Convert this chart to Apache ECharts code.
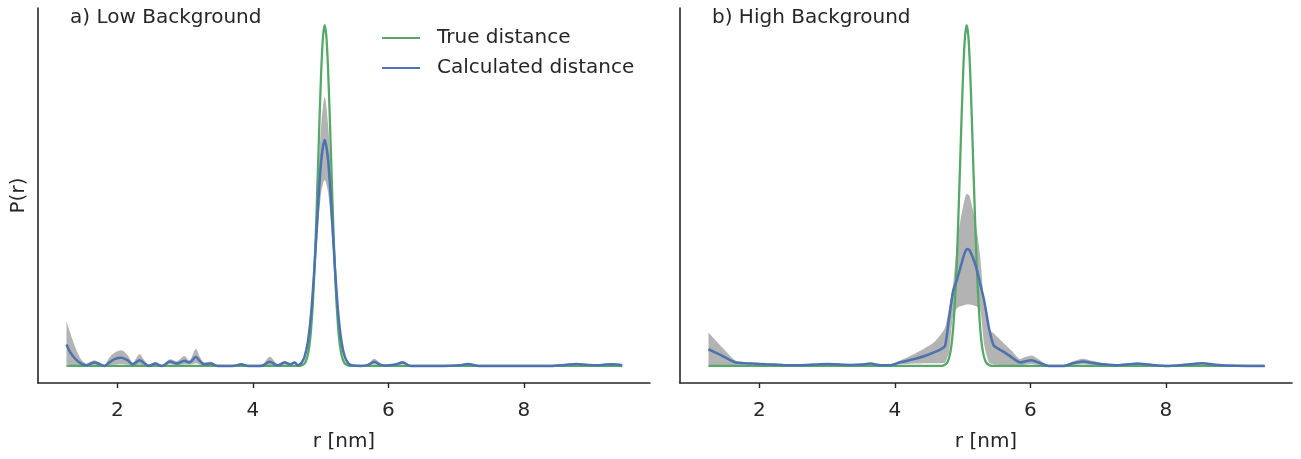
<!DOCTYPE html>
<html>
<head>
<meta charset="utf-8">
<script src="https://cdn.jsdelivr.net/npm/echarts@6/dist/echarts.min.js"></script>
<style>
html,body{margin:0;padding:0;background:#fff;}
#chart{width:1301px;height:459px;}
</style>
</head>
<body>
<div id="chart"></div>
<script>
// ---------- DATA ----------
const panelTitles = ['a) Low Background', 'b) High Background'];
const seriesNames = ['True distance', 'Calculated distance'];
const xTicks = [2, 4, 6, 8];
const xLabel = 'r [nm]';
const yLabel = 'P(r)';

// True distance (same in both panels)
const rTrue = [1.25, 4.66, 4.71, 4.76, 4.785, 4.81, 4.835, 4.86, 4.885, 4.91, 4.935, 4.96, 4.985, 5.01, 5.035, 5.06,
  5.085, 5.11, 5.135, 5.16, 5.185, 5.21, 5.235, 5.26, 5.285, 5.31, 5.335, 5.36, 5.41, 5.46, 9.45];
const pTrue = [0, 0, 0.0011, 0.0068, 0.0152, 0.0313, 0.0605, 0.109, 0.183, 0.287, 0.421, 0.575, 0.732, 0.871, 0.966, 1.0,
  0.966, 0.871, 0.732, 0.575, 0.421, 0.287, 0.183, 0.109, 0.0605, 0.0313, 0.0152, 0.0068, 0.0011, 0, 0];

// Low background panel
const rLow = [1.25, 1.30, 1.35, 1.40, 1.45, 1.50, 1.55, 1.60, 1.66, 1.73, 1.81, 1.88, 1.96, 2.06, 2.15, 2.23, 2.33, 2.40, 2.46, 2.56,
  2.66, 2.78, 2.88, 2.99, 3.06, 3.16, 3.22, 3.28, 3.38, 3.48, 3.70, 3.83, 3.93, 4.12, 4.25, 4.37, 4.47, 4.55, 4.62, 4.66,
  4.71, 4.76, 4.81, 4.86, 4.91, 4.96, 5.01, 5.06, 5.11, 5.16, 5.21, 5.26, 5.31, 5.36, 5.41, 5.46, 5.60, 5.70, 5.79, 5.88,
  5.96, 6.10, 6.21, 6.33, 6.80, 7.05, 7.17, 7.34, 8.40, 8.60, 8.77, 8.95, 9.07, 9.20, 9.31, 9.45];
const calcLow = [0.063, 0.042, 0.028, 0.017, 0.009, 0.004, 0.002, 0.006, 0.010, 0.006, 0.000, 0.010, 0.020, 0.024, 0.017, 0.005, 0.017, 0.008, 0.000, 0.007,
  0.000, 0.013, 0.007, 0.015, 0.010, 0.026, 0.014, 0.005, 0.007, 0.000, 0.000, 0.005, 0.000, 0.000, 0.012, 0.002, 0.010, 0.005, 0.010, 0.002,
  0.0076, 0.025, 0.068, 0.154, 0.292, 0.460, 0.605, 0.663, 0.605, 0.460, 0.292, 0.154, 0.068, 0.025, 0.0076, 0.002, 0.000, 0.003, 0.012, 0.004,
  0.001, 0.004, 0.010, 0.000, 0.000, 0.002, 0.006, 0.000, 0.000, 0.003, 0.006, 0.003, 0.002, 0.004, 0.005, 0.002];
const upperLow = [0.132, 0.100, 0.070, 0.045, 0.024, 0.012, 0.006, 0.012, 0.017, 0.011, 0.003, 0.024, 0.039, 0.046, 0.032, 0.010, 0.034, 0.016, 0.004, 0.010,
  0.003, 0.020, 0.014, 0.029, 0.016, 0.050, 0.026, 0.010, 0.012, 0.002, 0.001, 0.007, 0.001, 0.001, 0.027, 0.005, 0.015, 0.008, 0.013, 0.003,
  0.010, 0.030, 0.078, 0.175, 0.335, 0.535, 0.710, 0.789, 0.710, 0.535, 0.335, 0.175, 0.078, 0.030, 0.010, 0.003, 0.001, 0.006, 0.021, 0.008,
  0.002, 0.006, 0.015, 0.002, 0.001, 0.003, 0.008, 0.001, 0.001, 0.005, 0.008, 0.004, 0.003, 0.006, 0.007, 0.003];
const lowerLow = [0.005, 0.003, 0.002, 0.001, 0, 0, 0, 0.001, 0.004, 0.002, 0, 0.001, 0.004, 0.006, 0.004, 0.001, 0.004, 0.001, 0, 0.003,
  0, 0.006, 0.002, 0.005, 0.004, 0.008, 0.004, 0.001, 0.003, 0, 0, 0.002, 0, 0, 0.003, 0, 0.005, 0.002, 0.006, 0.001,
  0.005, 0.020, 0.058, 0.135, 0.255, 0.400, 0.510, 0.545, 0.510, 0.400, 0.255, 0.135, 0.058, 0.020, 0.005, 0.001, 0, 0.001, 0.005, 0.001,
  0, 0.002, 0.005, 0, 0, 0.001, 0.004, 0, 0, 0.002, 0.004, 0.001, 0.001, 0.002, 0.003, 0.001];

// High background panel
const rHigh = [1.25, 1.45, 1.655, 1.90, 2.10, 2.35, 2.60, 2.80, 3.00, 3.20, 3.35, 3.50, 3.64, 3.79, 3.93, 4.07, 4.20, 4.32, 4.45, 4.57,
  4.67, 4.74, 4.80, 4.86, 4.92, 4.97, 5.02, 5.06, 5.10, 5.15, 5.20, 5.26, 5.32, 5.39, 5.46, 5.60, 5.72, 5.85, 5.93, 6.02,
  6.12, 6.27, 6.49, 6.63, 6.77, 6.92, 7.09, 7.29, 7.45, 7.58, 7.75, 8.02, 8.30, 8.54, 8.70, 8.91, 9.20, 9.46];
const calcHigh = [0.049, 0.030, 0.010, 0.007, 0.005, 0.003, 0.002, 0.004, 0.006, 0.004, 0.003, 0.004, 0.007, 0.002, 0.002, 0.010, 0.016, 0.022, 0.030, 0.039,
  0.048, 0.058, 0.140, 0.220, 0.255, 0.290, 0.325, 0.343, 0.340, 0.318, 0.290, 0.240, 0.190, 0.110, 0.060, 0.042, 0.026, 0.010, 0.014, 0.017,
  0.010, 0.000, 0.000, 0.008, 0.013, 0.009, 0.005, 0.002, 0.005, 0.007, 0.004, 0.000, 0.004, 0.008, 0.004, 0.001, 0.000, 0.000];
const upperHigh = [0.098, 0.055, 0.015, 0.010, 0.008, 0.005, 0.004, 0.005, 0.008, 0.006, 0.005, 0.006, 0.009, 0.004, 0.004, 0.015, 0.027, 0.039, 0.053, 0.068,
  0.090, 0.112, 0.170, 0.240, 0.360, 0.430, 0.480, 0.505, 0.500, 0.460, 0.410, 0.320, 0.180, 0.110, 0.095, 0.068, 0.045, 0.020, 0.027, 0.031,
  0.020, 0.002, 0.002, 0.014, 0.0215, 0.015, 0.007, 0.003, 0.007, 0.009, 0.006, 0.002, 0.006, 0.011, 0.006, 0.002, 0.001, 0.001];
const lowerHigh = [0, 0, 0.003, 0.004, 0.003, 0.002, 0.001, 0.003, 0.004, 0.003, 0.002, 0.003, 0.005, 0.001, 0.001, 0.005, 0.006, 0.007, 0.008, 0.008,
  0.008, 0.010, 0.040, 0.150, 0.170, 0.175, 0.178, 0.180, 0.180, 0.178, 0.175, 0.165, 0.060, 0.010, 0.004, 0.002, 0.002, 0.002, 0.004, 0.006,
  0.003, 0, 0, 0.003, 0.005, 0.003, 0.002, 0.001, 0.002, 0.003, 0.002, 0, 0.002, 0.004, 0.002, 0, 0, 0];

// ---------- CHART ----------
const GREEN = '#55a868', BLUE = '#4c72b0', BAND = '#b3b3b3', INK = '#262626';
const FONT = 'DejaVu Sans';

function pairs(xs, ys) { return xs.map((x, i) => [x, ys[i]]); }

const grids = [
  { left: 38, top: 8, width: 612, height: 375 },
  { left: 680, top: 8, width: 612, height: 375 }
];

function xAxis(idx) {
  return {
    type: 'value', gridIndex: idx, min: 0.83, max: 9.86,
    name: xLabel, nameLocation: 'middle', nameGap: 49,
    nameTextStyle: { fontFamily: FONT, fontSize: 20, color: INK },
    axisLine: { show: true, onZero: false, lineStyle: { color: INK, width: 1.6 } },
    axisTick: { show: true, customValues: xTicks, length: 5, lineStyle: { color: INK, width: 1.4 } },
    axisLabel: { customValues: xTicks, fontFamily: FONT, fontSize: 20, color: INK, margin: 18 },
    splitLine: { show: false }
  };
}
function yAxis(idx, withName) {
  return {
    type: 'value', gridIndex: idx, min: -0.05, max: 1.05,
    name: withName ? yLabel : '', nameLocation: 'middle', nameGap: 9,
    nameTextStyle: { fontFamily: FONT, fontSize: 20, color: INK },
    axisLine: { show: true, onZero: false, lineStyle: { color: INK, width: 1.6 } },
    axisTick: { show: false }, axisLabel: { show: false }, splitLine: { show: false }
  };
}

function panelSeries(idx, r, calc, upper, lower, smooth) {
  return [
    // grey uncertainty band: upper envelope filled grey, then area below the lower envelope masked in white
    { type: 'line', xAxisIndex: idx, yAxisIndex: idx, data: pairs(r, upper), symbol: 'none', smooth: smooth,
      lineStyle: { width: 0, opacity: 0 }, areaStyle: { color: BAND, opacity: 1 }, silent: true, z: 1 },
    { type: 'line', xAxisIndex: idx, yAxisIndex: idx, data: pairs(r, lower), symbol: 'none', smooth: smooth,
      lineStyle: { width: 0, opacity: 0 }, areaStyle: { color: '#ffffff', opacity: 1 }, silent: true, z: 1 },
    { type: 'line', name: seriesNames[0], xAxisIndex: idx, yAxisIndex: idx, data: pairs(rTrue, pTrue), symbol: 'none', smooth: 0.2,
      color: GREEN, lineStyle: { color: GREEN, width: 2.3 }, z: 2 },
    { type: 'line', name: seriesNames[1], xAxisIndex: idx, yAxisIndex: idx, data: pairs(r, calc), symbol: 'none', smooth: smooth,
      color: BLUE, lineStyle: { color: BLUE, width: 2.5 }, z: 3 }
  ];
}

const chart = echarts.init(document.getElementById('chart'), null, { renderer: 'canvas' });
chart.setOption({
  animation: false,
  backgroundColor: '#fff',
  title: [
    { text: panelTitles[0], left: 70, top: 8, padding: 0, textStyle: { fontFamily: FONT, fontSize: 20, fontWeight: 'normal', color: INK } },
    { text: panelTitles[1], left: 712, top: 8, padding: 0, textStyle: { fontFamily: FONT, fontSize: 20, fontWeight: 'normal', color: INK } }
  ],
  legend: {
    data: seriesNames, orient: 'vertical', left: 377, top: 23,
    itemWidth: 38, itemHeight: 20, itemGap: 10, icon: 'path://M0,9 L38,9 L38,11 L0,11 Z',
    textStyle: { fontFamily: FONT, fontSize: 20, color: INK, padding: [0, 0, 0, 12] }
  },
  grid: grids,
  xAxis: [xAxis(0), xAxis(1)],
  yAxis: [yAxis(0, true), yAxis(1, false)],
  series: [].concat(
    panelSeries(0, rLow, calcLow, upperLow, lowerLow, 0.3),
    panelSeries(1, rHigh, calcHigh, upperHigh, lowerHigh, 0.2)
  )
});
</script>
</body>
</html>
